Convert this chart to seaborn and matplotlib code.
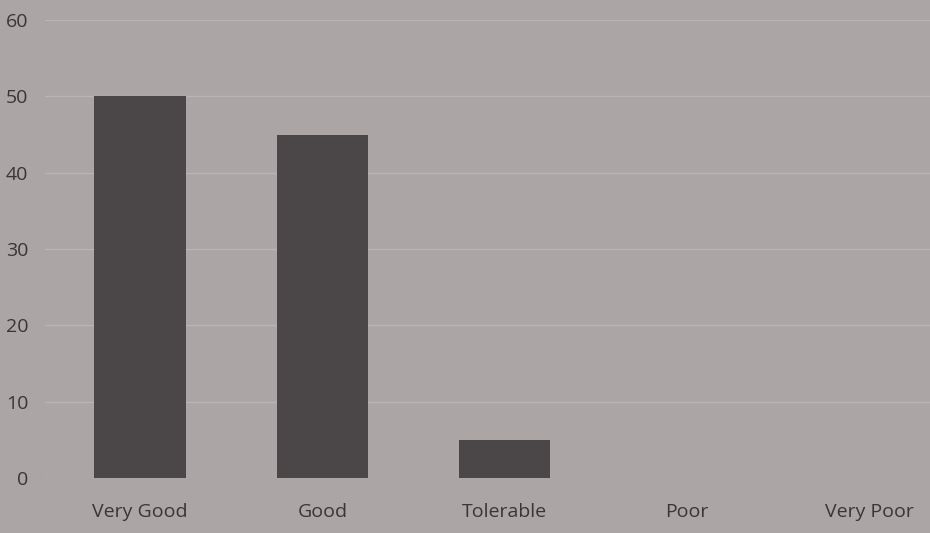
import pandas as pd
import seaborn as sns
import matplotlib.pyplot as plt

categories = ['Very Good', 'Good', 'Tolerable', 'Poor', 'Very Poor']
counts = [50, 45, 5, 0, 0]
y_ticks = [0, 10, 20, 30, 40, 50, 60]

df = pd.DataFrame({'rating': categories, 'count': counts})

bg = '#aba5a5'
sns.set_style('white')
plt.rcParams['font.family'] = ['Open Sans', 'DejaVu Sans']

fig = plt.figure(figsize=(9.3, 5.33), dpi=100)
fig.patch.set_facecolor(bg)
ax = fig.add_axes([45 / 930, 1 - 478 / 533, 1 - 45 / 930, (478 - 20) / 533])
ax.set_facecolor(bg)

sns.barplot(data=df, x='rating', y='count', color='#4b4647', width=0.5,
            saturation=1, linewidth=0, ax=ax, zorder=3)

ax.set_xlim(-0.52, 4.33)
ax.set_ylim(0, 60)
ax.set_yticks(y_ticks)
ax.yaxis.grid(True, color='#bab5b5', linewidth=1.0, zorder=0)
ax.xaxis.grid(False)
for s in ax.spines.values():
    s.set_visible(False)
ax.set_xlabel('')
ax.set_ylabel('')
ax.tick_params(axis='both', length=0, labelsize=14, colors='#3a3636')
ax.tick_params(axis='y', pad=12)
ax.tick_params(axis='x', pad=18)

fig.savefig('out.png', dpi=100, facecolor=bg)
